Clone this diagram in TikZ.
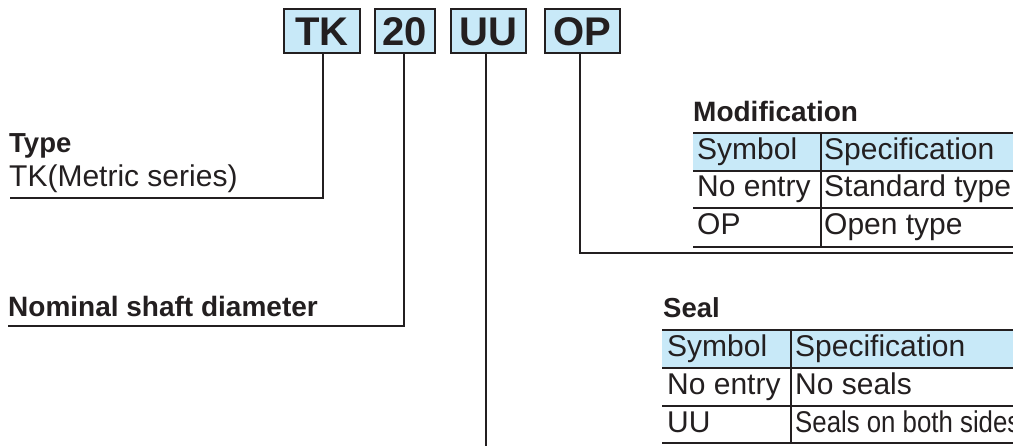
\documentclass[tikz,border=0pt]{standalone}
\usepackage{fontspec}
\setmainfont{Liberation Sans}
\newfontfamily\condfont[FakeStretch=0.86]{Liberation Sans}
\definecolor{hdr}{RGB}{200,233,248}
\definecolor{ink}{RGB}{35,31,32}
\tikzset{
  codebox/.style={draw=ink, line width=1.2pt, fill=hdr, minimum height=44pt, inner sep=0pt,
    text height=28.6pt, text depth=0pt, font=\fontsize{40}{40}\selectfont\bfseries, text=ink},
  lbl/.style={anchor=base west, inner sep=0pt, text=ink},
  cell/.style={lbl, font=\fontsize{30}{30}\selectfont},
  ttl/.style={lbl, font=\fontsize{27.5}{28}\selectfont\bfseries},
  conn/.style={draw=ink, line width=1.4pt},
  rule/.style={draw=ink, line width=1.6pt}
}
\begin{document}
\begin{tikzpicture}[x=1pt,y=-1pt]
\useasboundingbox (0,0) rectangle (1013,446);
\clip (0,0) rectangle (1013,446);
% code boxes
\node[codebox, minimum width=76pt] (tk) at (322,31) {TK};
\node[codebox, minimum width=60pt] (n20) at (405,31) {20};
\node[codebox, minimum width=75pt] (uu) at (488.5,31) {UU};
\node[codebox, minimum width=75pt] (op) at (582.5,31) {OP};
% type
\node[ttl] (typet) at (9,153) {Type};
\node[cell] (typev) at (9,187) {TK(Metric series)};
\coordinate (typeend) at (10,198);
\coordinate (typecorner) at (323,198);
\draw[conn] (tk.south -| typecorner) -- (typecorner) -- (typeend);
% nominal
\node[ttl, font=\fontsize{28}{28}\selectfont\bfseries] (nom) at (8,317) {Nominal shaft diameter};
\coordinate (nomend) at (8,326);
\coordinate (nomcorner) at (404,326);
\draw[conn] (n20.south -| nomcorner) -- (nomcorner) -- (nomend);
% seal stem
\coordinate (uuend) at (486,446);
\draw[conn] (uu.south -| uuend) -- (uuend);
% modification stem
\coordinate (opcorner) at (580,253);
\coordinate (opend) at (1013,253);
\draw[conn] (op.south -| opcorner) -- (opcorner) -- (opend);
% modification table
\node[ttl, font=\fontsize{28}{28}\selectfont\bfseries] (modt) at (693,122) {Modification};
\fill[hdr] (693,133) rectangle (1020,171);
\draw[rule] (693,133) -- (1020,133);
\draw[rule] (693,171) -- (1020,171);
\draw[rule] (693,208) -- (1020,208);
\draw[rule] (693,247) -- (1020,247);
\draw[rule] (821,133) -- (821,247);
\node[cell] (m11) at (697,160) {Symbol};
\node[cell] (m12) at (824,160) {Specification};
\node[cell] (m21) at (697,197) {No entry};
\node[cell] (m22) at (824,197) {Standard type};
\node[cell] (m31) at (697,235) {OP};
\node[cell] (m32) at (824,235) {Open type};
% seal table
\node[ttl] (sealt) at (663,318) {Seal};
\fill[hdr] (662,330) rectangle (1020,368);
\draw[rule] (662,330) -- (1020,330);
\draw[rule] (662,368) -- (1020,368);
\draw[rule] (662,406) -- (1020,406);
\draw[rule] (662,443) -- (1020,443);
\draw[rule] (791,330) -- (791,443);
\node[cell] (s11) at (667,357) {Symbol};
\node[cell] (s12) at (795,357) {Specification};
\node[cell] (s21) at (667,395) {No entry};
\node[cell] (s22) at (795,395) {No seals};
\node[cell] (s31) at (667,433) {UU};
\node[cell, font=\fontsize{30}{30}\condfont] (s32) at (795,433) {Seals on both sides};
\end{tikzpicture}
\end{document}
